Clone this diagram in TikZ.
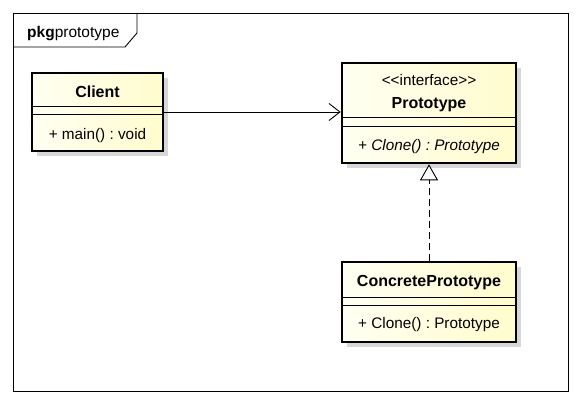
\documentclass[tikz,border=0pt]{standalone}
\usepackage{fontspec}
\setmainfont{Liberation Sans}
\usetikzlibrary{arrows.meta,shadows}
\definecolor{boxleft}{RGB}{255,255,242}
\definecolor{boxright}{RGB}{255,252,205}
\definecolor{shadowgray}{RGB}{215,215,215}
\tikzset{
  umlbox/.style={draw=black, line width=2.6pt, left color=boxleft, right color=boxright,
    inner sep=0pt, rectangle,
    drop shadow={shadow xshift=5pt, shadow yshift=-5pt, fill=shadowgray, opacity=1}},
  sepline/.style={line width=0.9pt},
  lbl/.style={anchor=base, inner sep=0pt, font=\fontsize{15.3}{18}\selectfont\frenchspacing},
  ttl/.style={anchor=base, inner sep=0pt, font=\fontsize{16}{19}\selectfont\bfseries},
  assoc/.style={line width=0.9pt, -{Straight Barb[length=11pt,width=17pt,line width=0.9pt]}},
  realize/.style={line width=0.9pt, dash pattern=on 7pt off 4pt,
    -{Triangle[open,length=16pt,width=18pt,line width=0.9pt,fill=white]}},
  frame/.style={line width=0.9pt}
}
\begin{document}
\begin{tikzpicture}[x=1pt,y=-1pt]
\useasboundingbox (0,0) rectangle (581,404);
\fill[white] (0,0) rectangle (581,404);
% package frame
\draw[frame] (13,13) rectangle (568,391);
\draw[frame] (13,47) -- (125,47) -- (137,33) -- (137,13);
\node[anchor=base west, inner sep=0pt, font=\fontsize{15.5}{18}\selectfont] (pkg) at (27,38) {\textbf{pkg}prototype};
% Client
\node[umlbox, minimum width=131pt, minimum height=78pt] (client) at (97.5,112) {};
\draw[sepline] (32,106) -- (163,106);
\draw[sepline] (32,114) -- (163,114);
\node[ttl] (clientname) at (97.5,97) {Client};
\node[lbl] (clientop) at (97.5,139) {+ main() : void};
% Prototype
\node[umlbox, minimum width=174pt, minimum height=100pt] (proto) at (429,113) {};
\draw[sepline] (342,117) -- (516,117);
\draw[sepline] (342,126) -- (516,126);
\node[lbl] (stereo) at (429,85) {{<}{<}interface{>}{>}};
\node[ttl] (protoname) at (429,108.5) {Prototype};
\node[lbl] (protoop) at (429,150) {\itshape + Clone() : Prototype};
% ConcretePrototype
\node[umlbox, minimum width=174pt, minimum height=80pt] (conc) at (429,302) {};
\draw[sepline] (342,297) -- (516,297);
\draw[sepline] (342,305) -- (516,305);
\node[ttl] (concname) at (429,286) {ConcretePrototype};
\node[lbl] (concop) at (429,328) {+ Clone() : Prototype};
% connectors
\draw[assoc] (client.east |- 0,112) -- (proto.west |- 0,112);
\draw[realize] (conc.north) -- (proto.south);
\end{tikzpicture}
\end{document}
